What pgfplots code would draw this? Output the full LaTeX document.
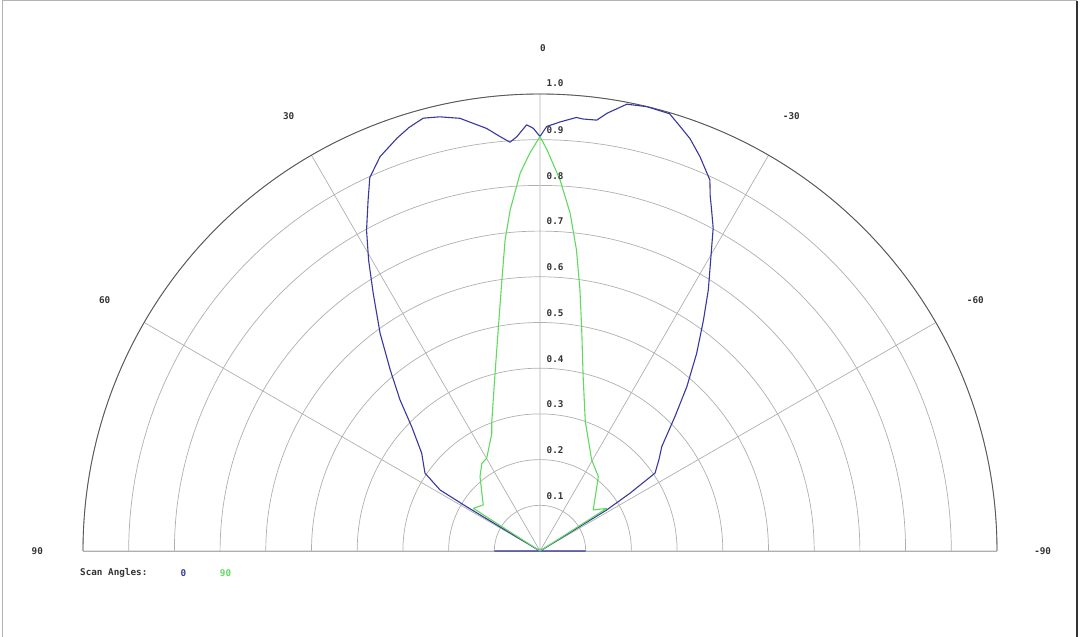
\documentclass[border=0pt]{standalone}
\usepackage{pgfplots}
\pgfplotsset{compat=1.18}
\usepgfplotslibrary{polar}
\usepackage{pgfplotstable}
\usepackage{fontspec}
\setmainfont{DejaVu Sans Mono}

\definecolor{scanblue}{RGB}{55,55,160}
\definecolor{scangreen}{RGB}{95,218,95}
\definecolor{gridgray}{RGB}{175,175,175}

% scan angle 0 (angle in degrees, positive to the left; relative value)
\pgfplotstableread{
ang   r
-90   0.10
-88   0.00
-62   0.00
-58.4 0.171
-57.3 0.234
-55.9 0.304
-52.5 0.328
-49.4 0.351
-45.1 0.417
-41.8 0.482
-38.4 0.552
-35.3 0.619
-32.8 0.680
-30.9 0.725
-28.2 0.802
-26.6 0.838
-25.6 0.862
-24.6 0.893
-22.1 0.931
-20.0 0.960
-18.3 0.978
-16.5 0.998
-13.5 1.000
-11.0 0.996
-8.7  0.969
-7.5  0.951
-5.7  0.950
-4.8  0.952
-2.7  0.940
-0.9  0.929
0     0.907
0.9   0.925
1.8   0.933
3.2   0.908
4.2   0.897
5.5   0.911
7.2   0.932
10.5  0.963
13.0  0.975
15.1  0.981
17.2  0.970
19.1  0.956
22.1  0.931
24.5  0.898
26.1  0.855
28.4  0.798
30.5  0.739
32.9  0.672
36.3  0.591
39.6  0.514
42.8  0.451
45.9  0.391
50.4  0.336
55.9  0.304
58.6  0.256
58.9  0.187
62    0.00
88    0.00
90    0.10
}\scanzero

% scan angle 90
\pgfplotstableread{
ang   r
-62   0.00
-57.4 0.173
-52.4 0.147
-38.1 0.207
-29.6 0.229
-19.3 0.300
-13.9 0.393
-10.7 0.492
-8.7  0.578
-6.9  0.664
-5.1  0.742
-3.1  0.813
-1.0  0.878
0     0.907
1.5   0.870
3.0   0.828
5.0   0.749
6.4   0.685
8.0   0.599
10.5  0.499
14.2  0.401
20.7  0.299
22.3  0.278
29.9  0.234
33.6  0.230
38.9  0.209
50.9  0.160
57.4  0.173
62    0.00
}\scanninety

\begin{document}
\begin{tikzpicture}[font=\fontsize{9.3}{11}\selectfont\bfseries]
\useasboundingbox (0,0) rectangle (1080pt,637pt);
% thin frame of the original screenshot
\draw[gray!60, line width=1pt] (2pt,0) -- (2pt,636pt) -- (1077pt,636pt);
\draw[black!80, line width=1.5pt] (1077pt,636pt) -- (1077pt,0);

\begin{polaraxis}[
  at={(540pt,86pt)}, anchor=origin,
  scale only axis,
  width=914pt, height=914pt,
  xmin=0, xmax=180,
  ymin=0, ymax=1,
  xtick={0,30,60,90,120,150,180},
  ytick={0.1,0.2,0.3,0.4,0.5,0.6,0.7,0.8,0.9,1.0},
  xticklabels={}, yticklabels={},
  major tick length=0pt,
  grid=major,
  major grid style={gridgray, line width=0.7pt},
  x axis line style={black!65, line width=0.9pt},
  y axis line style={gridgray, line width=0.9pt},
  clip=false,
]
\addplot[scanblue, line width=1.1pt, line join=round] table[x expr=\thisrow{ang}+90, y=r] {\scanzero};
\addplot[scangreen, line width=1.1pt, line join=round] table[x expr=\thisrow{ang}+90, y=r] {\scanninety};

% radial labels along the 0 degree line
\pgfplotsinvokeforeach{1,...,9}{
  \node[anchor=west, inner sep=0pt, xshift=6.5pt, yshift=9.5pt, text=black!80]
    at (axis cs:90,0.#1) {0.#1};
}
\node[anchor=west, inner sep=0pt, xshift=6.5pt, yshift=10.5pt, text=black!80]
  at (axis cs:90,1.0) {1.0};

% angle labels
\node[text=black!80, xshift=3pt] at (axis cs:90,1.1)  {0};
\node[text=black!80] at (axis cs:120,1.1) {30};
\node[text=black!80] at (axis cs:150,1.1) {60};
\node[text=black!80] at (axis cs:180,1.1) {90};
\node[text=black!80] at (axis cs:60,1.1)  {-30};
\node[text=black!80] at (axis cs:30,1.1)  {-60};
\node[text=black!80] at (axis cs:0,1.1)   {-90};
\end{polaraxis}

% legend
\node[anchor=west, inner sep=0pt, text=black!80] at (80pt,64.3pt) {Scan Angles:};
\node[text=scanblue] at (183.5pt,64.3pt) {0};
\node[text=scangreen] at (225.5pt,64.3pt) {90};
\end{tikzpicture}
\end{document}
